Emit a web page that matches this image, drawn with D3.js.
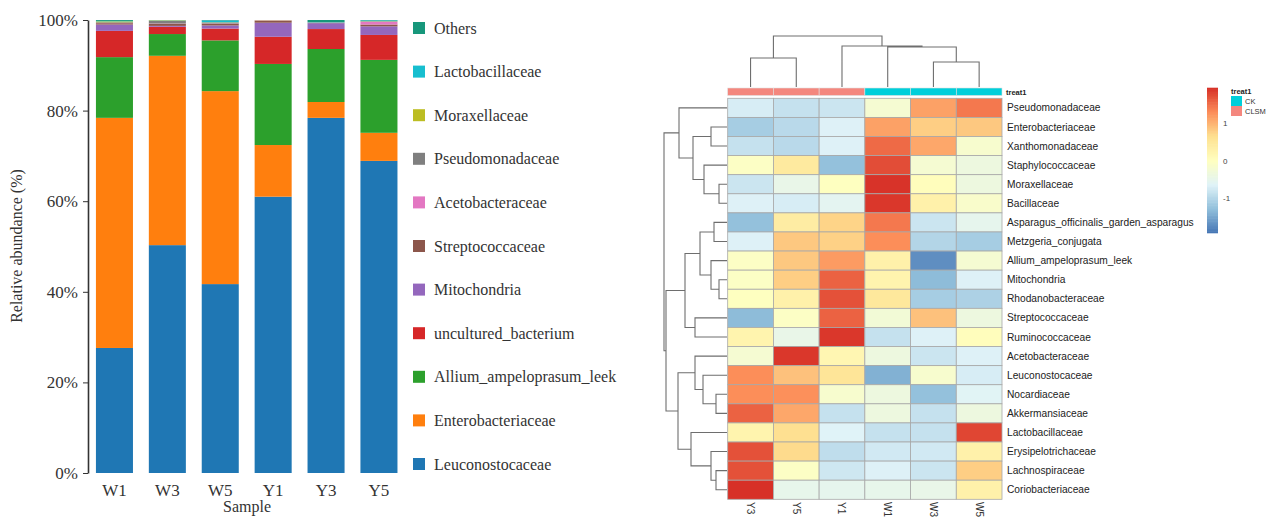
<!DOCTYPE html>
<html>
<head>
<meta charset="utf-8">
<script src="https://cdn.jsdelivr.net/npm/d3@7/dist/d3.min.js"></script>
<style>
  html, body { margin: 0; padding: 0; background: #fff; }
  svg { display: block; }
</style>
</head>
<body>
<svg id="chart" width="1266" height="517"></svg>
<script>
// ---------------- Stacked bar data ----------------
const samples = ["W1", "W3", "W5", "Y1", "Y3", "Y5"];
const taxa = ["Leuconostocaceae", "Enterobacteriaceae", "Allium_ampeloprasum_leek", "uncultured_bacterium",
  "Mitochondria", "Streptococcaceae", "Acetobacteraceae", "Pseudomonadaceae", "Moraxellaceae",
  "Lactobacillaceae", "Others"];
const taxaColors = ["#1f77b4", "#ff7f0e", "#2ca02c", "#d62728", "#9467bd", "#8c564b", "#e377c2",
  "#7f7f7f", "#bcbd22", "#17becf", "#17977b"];
const leuconostocaceae = [27.6, 50.3, 41.7, 61.0, 78.4, 68.9];
const enterobacteriaceae = [50.8, 41.8, 42.6, 11.4, 3.5, 6.2];
const allium = [13.4, 4.8, 11.2, 17.9, 11.7, 16.1];
const unculturedBacterium = [5.8, 1.6, 2.6, 6.0, 4.4, 5.5];
const mitochondria = [1.4, 0.2, 0.7, 3.1, 1.3, 1.9];
const streptococcaceae = [0.3, 0.5, 0.4, 0.4, 0.05, 0.4];
const acetobacteraceae = [0.05, 0.05, 0.05, 0.1, 0.05, 0.6];
const pseudomonadaceae = [0.15, 0.6, 0.2, 0.05, 0.05, 0.1];
const moraxellaceae = [0.2, 0.1, 0.05, 0.05, 0.0, 0.05];
const lactobacillaceae = [0.1, 0.05, 0.4, 0.0, 0.05, 0.15];
const others = [0.2, 0.0, 0.1, 0.0, 0.5, 0.1];
const yTicks = [0, 20, 40, 60, 80, 100];

// ---------------- Heatmap data ----------------
const heatCols = ["Y3", "Y5", "Y1", "W1", "W3", "W5"];
const heatColGroup = ["CLSM", "CLSM", "CLSM", "CK", "CK", "CK"];
const heatRows = ["Pseudomonadaceae", "Enterobacteriaceae", "Xanthomonadaceae", "Staphylococcaceae",
  "Moraxellaceae", "Bacillaceae", "Asparagus_officinalis_garden_asparagus", "Metzgeria_conjugata",
  "Allium_ampeloprasum_leek", "Mitochondria", "Rhodanobacteraceae", "Streptococcaceae",
  "Ruminococcaceae", "Acetobacteraceae", "Leuconostocaceae", "Nocardiaceae", "Akkermansiaceae",
  "Lactobacillaceae", "Erysipelotrichaceae", "Lachnospiraceae", "Coriobacteriaceae"];
const heatValues = [
  [-0.70, -0.85, -0.80, -0.20, 1.15, 1.45],
  [-1.10, -0.95, -0.65, 1.15, 0.80, 0.85],
  [-0.85, -0.95, -0.65, 1.55, 1.10, -0.15],
  [-0.05, 0.45, -1.25, 1.75, -0.20, -0.35],
  [-0.80, -0.45, 0.00, 1.93, 0.05, -0.35],
  [-0.65, -0.70, -0.55, 1.90, 0.30, -0.12],
  [-1.25, 0.40, 0.75, 1.45, -0.80, -0.50],
  [-0.65, 0.85, 0.78, 1.30, -1.00, -1.10],
  [-0.05, 0.85, 1.20, 0.30, -1.70, -0.20],
  [-0.05, 0.80, 1.60, 0.25, -1.30, -0.65],
  [0.00, 0.30, 1.72, 0.50, -1.10, -1.05],
  [-1.30, -0.05, 1.60, -0.25, 0.90, -0.35],
  [0.25, -0.45, 1.90, -0.85, -0.65, 0.05],
  [-0.20, 1.90, 0.20, -0.35, -0.80, -0.65],
  [1.30, 0.90, 0.55, -1.40, -0.15, -0.70],
  [1.30, 1.28, -0.15, -0.35, -1.25, -0.60],
  [1.60, 1.10, -0.85, -0.35, -0.85, -0.35],
  [0.25, 0.65, -0.63, -0.85, -0.85, 1.80],
  [1.72, 0.70, -0.90, -0.75, -0.75, 0.30],
  [1.72, -0.05, -0.78, -0.65, -0.80, 0.80],
  [1.95, -0.48, -0.50, -0.48, -0.45, 0.30]
];
const heatPalette = ["#4575B4", "#91BFDB", "#E0F3F8", "#FFFFBF", "#FEE090", "#FC8D59", "#D73027"];
const heatRange = [-1.92, 1.95];
const legendTicks = [-1, 0, 1];
const groupNames = ["CK", "CLSM"];
const groupColors = ["#00CFDA", "#F4877E"];

// dendrograms: leaves are row/column indices, h = merge height
const rowTree = {h: 6.3, c: [
  {h: 4.8, c: [0, {h: 3.4, c: [{h: 1.6, c: [1, 2]}, {h: 2.3, c: [3, {h: 0.8, c: [4, 5]}]}]}]},
  {h: 6.1, c: [
    {h: 4.2, c: [{h: 2.7, c: [{h: 1.3, c: [6, 7]}, {h: 1.6, c: [8, {h: 0.8, c: [9, 10]}]}]}, {h: 3.2, c: [11, 12]}]},
    {h: 4.9, c: [{h: 3.2, c: [13, {h: 2.4, c: [14, {h: 1.1, c: [15, 16]}]}]},
                 {h: 3.6, c: [17, {h: 1.6, c: [18, {h: 1.1, c: [19, 20]}]}]}]}
  ]}
]};
const colTree = {h: 5.1, c: [{h: 2.9, c: [0, 1]}, {h: 4.1, c: [2, {h: 4.0, c: [3, {h: 2.5, c: [4, 5]}]}]}]};

// ---------------- Drawing ----------------
const svg = d3.select("#chart");

// ===== Bar chart =====
const serif = "'Liberation Serif', 'Times New Roman', serif";
const x = d3.scaleBand().domain(samples).range([88, 405.4]).paddingInner(0.3).paddingOuter(0.15);
const y = d3.scaleLinear().domain([0, 100]).range([473, 20]);

const taxaArrays = [leuconostocaceae, enterobacteriaceae, allium, unculturedBacterium, mitochondria,
  streptococcaceae, acetobacteraceae, pseudomonadaceae, moraxellaceae, lactobacillaceae, others];
const table = samples.map((s, i) => {
  const row = {sample: s};
  taxa.forEach((t, k) => row[t] = taxaArrays[k][i]);
  return row;
});
const stack = d3.stack().keys(taxa)(table);
const color = d3.scaleOrdinal().domain(taxa).range(taxaColors);

svg.append("g").selectAll("g").data(stack).join("g")
  .attr("fill", d => color(d.key))
  .selectAll("rect").data(d => d).join("rect")
  .attr("x", d => x(d.data.sample))
  .attr("width", x.bandwidth())
  .attr("y", d => y(Math.min(d[1], 100)))
  .attr("height", d => Math.max(0, y(d[0]) - y(Math.min(d[1], 100))));

const yAxis = svg.append("g").attr("transform", "translate(88,0)")
  .call(d3.axisLeft(y).tickValues(yTicks).tickFormat(d => d + "%").tickSize(5).tickSizeOuter(0));
yAxis.select(".domain").attr("stroke", "#333").attr("stroke-width", 1.6);
yAxis.selectAll(".tick line").attr("stroke", "#333");
yAxis.selectAll("text").attr("font-family", serif).attr("font-size", 17).attr("fill", "#333").attr("dx", "-2");

const xAxis = svg.append("g").attr("transform", "translate(0,473)")
  .call(d3.axisBottom(x).tickSize(0));
xAxis.select(".domain").remove();
xAxis.selectAll("text").attr("font-family", serif).attr("font-size", 17).attr("fill", "#333").attr("dy", "1.2em");

svg.append("text").attr("transform", "translate(22,246) rotate(-90)")
  .attr("text-anchor", "middle").attr("font-family", serif).attr("font-size", 16).attr("fill", "#333")
  .text("Relative abundance (%)");
svg.append("text").attr("x", 247).attr("y", 512).attr("text-anchor", "middle")
  .attr("font-family", serif).attr("font-size", 16).attr("fill", "#333").text("Sample");

const legendOrder = taxa.slice().reverse();
const ly = d3.scalePoint().domain(legendOrder).range([28, 464]);
const leg = svg.append("g").selectAll("g").data(legendOrder).join("g")
  .attr("transform", d => `translate(413,${ly(d)})`);
leg.append("rect").attr("x", 0).attr("y", -6).attr("width", 12).attr("height", 12).attr("fill", d => color(d));
leg.append("text").attr("x", 21).attr("y", 0).attr("dy", "0.35em")
  .attr("font-family", serif).attr("font-size", 16).attr("fill", "#333").text(d => d);

// ===== Heatmap =====
const sans = "'Liberation Sans', Arial, Helvetica, sans-serif";
const hx = d3.scaleBand().domain(d3.range(heatCols.length)).range([727.7, 1002]);
const hy = d3.scaleBand().domain(d3.range(heatRows.length)).range([98.3, 499.3]);
const stops = heatPalette.map((c, i) => heatRange[0] + i * (heatRange[1] - heatRange[0]) / (heatPalette.length - 1));
const hcolor = d3.scaleLinear().domain(stops).range(heatPalette).interpolate(d3.interpolateRgb).clamp(true);

const cells = [];
heatValues.forEach((row, r) => row.forEach((v, c) => cells.push({r, c, v})));
svg.append("g").selectAll("rect").data(cells).join("rect")
  .attr("x", d => hx(d.c)).attr("y", d => hy(d.r))
  .attr("width", hx.bandwidth()).attr("height", hy.bandwidth())
  .attr("fill", d => hcolor(d.v)).attr("stroke", "#a8a8a8").attr("stroke-width", 0.8);

// annotation bar
const gcolor = d3.scaleOrdinal().domain(groupNames).range(groupColors);
svg.append("g").selectAll("rect").data(heatColGroup).join("rect")
  .attr("x", (d, i) => hx(i)).attr("y", 88).attr("width", hx.bandwidth()).attr("height", 7.5)
  .attr("fill", d => gcolor(d)).attr("stroke", "#e0e0e0").attr("stroke-width", 0.6);
svg.append("text").attr("x", 1006).attr("y", 92).attr("dy", "0.35em")
  .attr("font-family", sans).attr("font-size", 7.5).attr("font-weight", "bold").attr("fill", "#222").text("treat1");

// row labels
svg.append("g").selectAll("text").data(heatRows).join("text")
  .attr("x", 1007).attr("y", (d, i) => hy(i) + hy.bandwidth() / 2).attr("dy", "0.35em")
  .attr("font-family", sans).attr("font-size", 10.2).attr("fill", "#222").text(d => d);

// column labels (rotated, reading downward)
svg.append("g").selectAll("text").data(heatCols).join("text")
  .attr("transform", (d, i) => `translate(${hx(i) + hx.bandwidth() / 2},502) rotate(90)`)
  .attr("dy", "0.35em").attr("font-family", sans).attr("font-size", 10).attr("fill", "#333").text(d => d);

// dendrograms
function layout(node, pos) {
  if (typeof node === "number") return {p: pos(node), h: 0, leaf: true};
  const kids = node.c.map(k => layout(k, pos));
  return {p: (kids[0].p + kids[1].p) / 2, h: node.h, kids};
}
function segments(n, out) {
  if (!n.kids) return out;
  n.kids.forEach(k => {
    out.push({a: n.p, b: k.p, h0: n.h, h1: k.h});
    segments(k, out);
  });
  return out;
}
const dendroStroke = "#6e6e6e";

const rowRoot = layout(rowTree, i => hy(i) + hy.bandwidth() / 2);
const rh = d3.scaleLinear().domain([0, rowTree.h]).range([727, 664]);
const rowPath = segments(rowRoot, []).map(s =>
  `M${rh(s.h0)},${s.a}V${s.b}H${rh(s.h1)}`).join("");
svg.append("path").attr("d", rowPath).attr("fill", "none").attr("stroke", dendroStroke).attr("stroke-width", 1.1);

const colRoot = layout(colTree, i => hx(i) + hx.bandwidth() / 2);
const ch = d3.scaleLinear().domain([0, colTree.h]).range([87, 36]);
const colPath = segments(colRoot, []).map(s =>
  `M${s.a},${ch(s.h0)}H${s.b}V${ch(s.h1)}`).join("");
svg.append("path").attr("d", colPath).attr("fill", "none").attr("stroke", dendroStroke).attr("stroke-width", 1.1);

// color legend
const lgY = d3.scaleLinear().domain(heatRange).range([233, 88]);
const nSteps = 100;
const stepVals = d3.range(nSteps).map(i => heatRange[0] + (i + 0.5) * (heatRange[1] - heatRange[0]) / nSteps);
const stepH = (lgY(heatRange[0]) - lgY(heatRange[1])) / nSteps;
svg.append("g").selectAll("rect").data(stepVals).join("rect")
  .attr("x", 1207).attr("width", 11)
  .attr("y", d => lgY(d) - stepH / 2 - 0.3).attr("height", stepH + 0.6)
  .attr("fill", d => hcolor(d));
svg.append("g").selectAll("text").data(legendTicks).join("text")
  .attr("x", 1223).attr("y", d => lgY(d)).attr("dy", "0.35em")
  .attr("font-family", sans).attr("font-size", 8).attr("fill", "#444").text(d => d);

// group legend
svg.append("text").attr("x", 1231).attr("y", 91).attr("dy", "0.35em")
  .attr("font-family", sans).attr("font-size", 7.5).attr("font-weight", "bold").attr("fill", "#222").text("treat1");
const gl = svg.append("g").selectAll("g").data(groupNames).join("g")
  .attr("transform", (d, i) => `translate(1231,${96 + i * 10})`);
gl.append("rect").attr("width", 11).attr("height", 10).attr("fill", d => gcolor(d));
gl.append("text").attr("x", 14).attr("y", 5).attr("dy", "0.35em")
  .attr("font-family", sans).attr("font-size", 7.5).attr("fill", "#333").text(d => d);
</script>
</body>
</html>
